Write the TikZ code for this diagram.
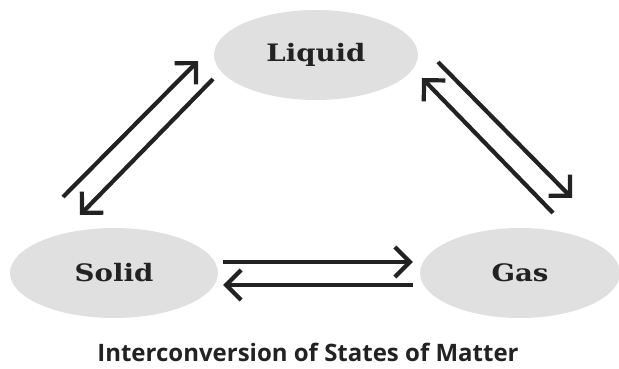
\documentclass[tikz,border=0pt]{standalone}
\usepackage{fontspec}
\setmainfont{DejaVu Serif}
\newfontfamily\slabfont[FakeStretch=1.15]{DejaVu Serif}
\newfontfamily\titulofont{Open Sans}
\usepackage{tikz}
\usetikzlibrary{shapes.geometric, positioning, arrows.meta}
\definecolor{grisestado}{RGB}{224, 224, 224}
\definecolor{tinta}{RGB}{34, 34, 34}

\begin{document}
\begin{tikzpicture}[x=1pt, y=-1pt,
    estado/.style={ellipse, fill=grisestado, inner sep=0pt,
      minimum width=204pt, minimum height=90pt,
      text=tinta, font=\slabfont\bfseries\fontsize{24}{28}\selectfont},
    flecha/.style={-{Straight Barb[length=15pt, width=30pt]},
      line width=4.2pt, tinta}]
            \useasboundingbox (0,0) rectangle (619,369);

            % Estados
            \node[estado] (liquido) at (316,55) {Liquid};
            \node[estado, minimum width=208pt] (solido) at (114,273) {Solid};
            \node[estado, minimum width=200pt] (gas) at (520,273) {Gas};

            % Solido <-> Liquido
            \coordinate (sl-a) at (63,197);
            \coordinate (sl-b) at (198,61);
            \coordinate (ls-a) at (213,79);
            \coordinate (ls-b) at (80,215);
            \draw[flecha] (sl-a) -- (sl-b);
            \draw[flecha] (ls-a) -- (ls-b);

            % Liquido <-> Gas
            \coordinate (lg-a) at (438,62);
            \coordinate (lg-b) at (572,198);
            \coordinate (gl-a) at (553,213);
            \coordinate (gl-b) at (422,78);
            \draw[flecha] (lg-a) -- (lg-b);
            \draw[flecha] (gl-a) -- (gl-b);

            % Solido <-> Gas
            \draw[flecha, shorten <=5pt, shorten >=7pt]
              ([yshift=11pt]solido.east) -- ([yshift=11pt]gas.west);
            \draw[flecha, shorten <=7pt, shorten >=5pt]
              ([yshift=-12pt]gas.west) -- ([yshift=-12pt]solido.east);

            % Titulo
            \node[text=tinta, anchor=base, inner sep=0pt, text depth=0pt,
              font=\titulofont\bfseries\fontsize{24}{28}\selectfont]
              (titulo) at (308,361) {Interconversion of States of Matter};
        \end{tikzpicture}
\end{document}
